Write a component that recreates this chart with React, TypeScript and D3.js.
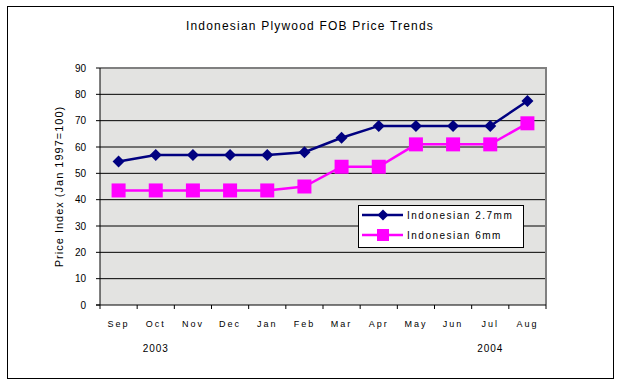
import React from 'react';
import * as d3 from 'd3';

const months = ['Sep', 'Oct', 'Nov', 'Dec', 'Jan', 'Feb', 'Mar', 'Apr', 'May', 'Jun', 'Jul', 'Aug'];
const ply27 = [54.5, 57, 57, 57, 57, 58, 63.5, 68, 68, 68, 68, 77.5];
const ply6 = [43.5, 43.5, 43.5, 43.5, 43.5, 45, 52.5, 52.5, 61, 61, 61, 69];
const yTicks = [0, 10, 20, 30, 40, 50, 60, 70, 80, 90];
const years = [
  { label: '2003', at: 'Oct' },
  { label: '2004', at: 'Jul' },
];

const W = 619;
const H = 389;
const plot = { left: 100, right: 546, top: 68, bottom: 305 };
const font = 'Liberation Sans, Arial, sans-serif';

const App = () => {
  const x = d3.scaleBand<string>().domain(months).range([plot.left, plot.right]);
  const y = d3.scaleLinear().domain([0, 90]).range([plot.bottom, plot.top]);
  const cx = (m: string) => (x(m) as number) + x.bandwidth() / 2;

  const line = d3
    .line<number>()
    .x((_, i) => cx(months[i]))
    .y((d) => y(d));

  const diamond = (px: number, py: number, r = 6) =>
    `M${px},${py - r}L${px + r},${py}L${px},${py + r}L${px - r},${py}Z`;

  const boundaries = [...months.map((m) => x(m) as number), plot.right];

  return (
    <svg width={W} height={H} style={{ position: 'absolute', left: 0, top: 0, background: '#fff' }}>
      <rect x={7.5} y={6.5} width={606} height={372} fill="#fff" stroke="#000" strokeWidth={1} />
      <text x={310} y={30} textAnchor="middle" fontFamily={font} fontSize={12} letterSpacing={1.2}>
        Indonesian Plywood FOB Price Trends
      </text>

      {/* plot area */}
      <rect
        x={plot.left}
        y={plot.top}
        width={plot.right - plot.left}
        height={plot.bottom - plot.top}
        fill="#e3e3e1"
      />
      {yTicks.slice(1, -1).map((t) => (
        <line key={t} x1={plot.left} x2={plot.right} y1={y(t)} y2={y(t)} stroke="#000" strokeWidth={1} />
      ))}
      <line x1={plot.left} x2={plot.right + 1} y1={plot.top} y2={plot.top} stroke="#808080" strokeWidth={2} />
      <line x1={plot.right} x2={plot.right} y1={plot.top} y2={plot.bottom} stroke="#808080" strokeWidth={2} />
      <line x1={plot.left} x2={plot.left} y1={plot.top} y2={plot.bottom} stroke="#000" strokeWidth={1} />
      <line x1={plot.left - 4} x2={plot.right} y1={plot.bottom} y2={plot.bottom} stroke="#000" strokeWidth={1} />

      {/* y axis */}
      {yTicks.map((t) => (
        <g key={t}>
          <line x1={plot.left - 4} x2={plot.left} y1={y(t)} y2={y(t)} stroke="#000" />
          <text x={plot.left - 14} y={y(t) + 3.5} textAnchor="end" fontFamily={font} fontSize={10}>
            {t}
          </text>
        </g>
      ))}
      <text
        transform={`translate(63,${(plot.top + plot.bottom) / 2}) rotate(-90)`}
        textAnchor="middle"
        fontFamily={font}
        fontSize={11}
        letterSpacing={1}
      >
        Price Index (Jan 1997=100)
      </text>

      {/* x axis */}
      {boundaries.map((b, i) => (
        <line key={i} x1={b} x2={b} y1={plot.bottom} y2={plot.bottom + 4} stroke="#000" />
      ))}
      {months.map((m) => (
        <text key={m} x={cx(m)} y={327} textAnchor="middle" fontFamily={font} fontSize={9} letterSpacing={2}>
          {m}
        </text>
      ))}
      {years.map((yr) => (
        <text key={yr.label} x={cx(yr.at)} y={352} textAnchor="middle" fontFamily={font} fontSize={10} letterSpacing={1}>
          {yr.label}
        </text>
      ))}

      {/* series */}
      <path d={line(ply6) || ''} fill="none" stroke="#ff00ff" strokeWidth={2.5} />
      {ply6.map((v, i) => (
        <rect key={i} x={cx(months[i]) - 7} y={y(v) - 7} width={14} height={14} fill="#ff00ff" />
      ))}
      <path d={line(ply27) || ''} fill="none" stroke="#000080" strokeWidth={2.5} />
      {ply27.map((v, i) => (
        <path key={i} d={diamond(cx(months[i]), y(v))} fill="#000080" />
      ))}

      {/* legend */}
      <rect x={358.5} y={205.5} width={165} height={42} fill="#fff" stroke="#000" />
      <line x1={362} x2={403} y1={215} y2={215} stroke="#000080" strokeWidth={2.5} />
      <path d={diamond(383, 215, 5.5)} fill="#000080" />
      <text x={407} y={218.5} fontFamily={font} fontSize={10} letterSpacing={1.5}>
        Indonesian 2.7mm
      </text>
      <line x1={362} x2={403} y1={235} y2={235} stroke="#ff00ff" strokeWidth={2.5} />
      <rect x={377} y={229} width={12} height={12} fill="#ff00ff" />
      <text x={407} y={238.5} fontFamily={font} fontSize={10} letterSpacing={1.5}>
        Indonesian 6mm
      </text>
    </svg>
  );
};

export default App;
